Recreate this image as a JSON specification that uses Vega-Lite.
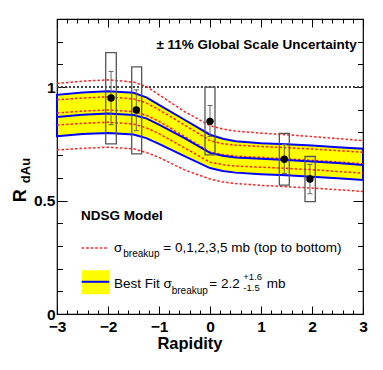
{
  "$schema": "https://vega.github.io/schema/vega-lite/v6.json",
  "width": 306,
  "height": 295,
  "autosize": "none",
  "padding": {"left": 57, "top": 19, "right": 20, "bottom": 56},
  "background": "white",
  "config": {
    "font": "Liberation Sans",
    "view": {"stroke": "black", "strokeWidth": 1.2},
    "axis": {"grid": false, "domain": false, "tickColor": "black", "tickWidth": 1, "labelFlush": false, "labelOverlap": false, "labelColor": "black"}
  },
  "datasets": {
    "band": [
      {"x": -3, "lo": 0.783, "hi": 0.966},
      {"x": -2.5, "lo": 0.793, "hi": 0.976},
      {"x": -2, "lo": 0.798, "hi": 0.982},
      {"x": -1.5, "lo": 0.791, "hi": 0.975},
      {"x": -1.25, "lo": 0.775, "hi": 0.955},
      {"x": -1.0, "lo": 0.75, "hi": 0.922},
      {"x": -0.5, "lo": 0.696, "hi": 0.856},
      {"x": 0, "lo": 0.643, "hi": 0.79},
      {"x": 0.25, "lo": 0.63, "hi": 0.772},
      {"x": 0.5, "lo": 0.623, "hi": 0.761},
      {"x": 1, "lo": 0.616, "hi": 0.753},
      {"x": 1.5, "lo": 0.611, "hi": 0.748},
      {"x": 2, "lo": 0.605, "hi": 0.742},
      {"x": 2.5, "lo": 0.598, "hi": 0.735},
      {"x": 3, "lo": 0.591, "hi": 0.728}
    ],
    "best": [
      {"x": -3, "y": 0.868}, {"x": -2.5, "y": 0.878}, {"x": -2, "y": 0.884}, {"x": -1.5, "y": 0.877},
      {"x": -1.25, "y": 0.862}, {"x": -1.0, "y": 0.835}, {"x": -0.5, "y": 0.775}, {"x": 0, "y": 0.71},
      {"x": 0.25, "y": 0.697}, {"x": 0.5, "y": 0.69}, {"x": 1, "y": 0.684}, {"x": 1.5, "y": 0.679},
      {"x": 2, "y": 0.672}, {"x": 2.5, "y": 0.665}, {"x": 3, "y": 0.657}
    ],
    "red": [
      {"s": 0, "x": -3, "y": 1.016}, {"s": 0, "x": -2.5, "y": 1.026}, {"s": 0, "x": -2, "y": 1.032}, {"s": 0, "x": -1.5, "y": 1.022}, {"s": 0, "x": -1.25, "y": 1.003}, {"s": 0, "x": -1.0, "y": 0.966}, {"s": 0, "x": -0.5, "y": 0.892}, {"s": 0, "x": 0, "y": 0.83}, {"s": 0, "x": 0.25, "y": 0.815}, {"s": 0, "x": 0.5, "y": 0.806}, {"s": 0, "x": 1, "y": 0.797}, {"s": 0, "x": 1.5, "y": 0.79}, {"s": 0, "x": 2, "y": 0.782}, {"s": 0, "x": 2.5, "y": 0.773}, {"s": 0, "x": 3, "y": 0.764},
      {"s": 1, "x": -3, "y": 0.944}, {"s": 1, "x": -2.5, "y": 0.952}, {"s": 1, "x": -2, "y": 0.957}, {"s": 1, "x": -1.5, "y": 0.948}, {"s": 1, "x": -1.25, "y": 0.93}, {"s": 1, "x": -1.0, "y": 0.9}, {"s": 1, "x": -0.5, "y": 0.833}, {"s": 1, "x": 0, "y": 0.764}, {"s": 1, "x": 0.25, "y": 0.75}, {"s": 1, "x": 0.5, "y": 0.744}, {"s": 1, "x": 1, "y": 0.738}, {"s": 1, "x": 1.5, "y": 0.733}, {"s": 1, "x": 2, "y": 0.727}, {"s": 1, "x": 2.5, "y": 0.72}, {"s": 1, "x": 3, "y": 0.713},
      {"s": 2, "x": -3, "y": 0.886}, {"s": 2, "x": -2.5, "y": 0.894}, {"s": 2, "x": -2, "y": 0.899}, {"s": 2, "x": -1.5, "y": 0.892}, {"s": 2, "x": -1.25, "y": 0.876}, {"s": 2, "x": -1.0, "y": 0.849}, {"s": 2, "x": -0.5, "y": 0.782}, {"s": 2, "x": 0, "y": 0.714}, {"s": 2, "x": 0.25, "y": 0.702}, {"s": 2, "x": 0.5, "y": 0.696}, {"s": 2, "x": 1, "y": 0.69}, {"s": 2, "x": 1.5, "y": 0.684}, {"s": 2, "x": 2, "y": 0.677}, {"s": 2, "x": 2.5, "y": 0.67}, {"s": 2, "x": 3, "y": 0.662},
      {"s": 3, "x": -3, "y": 0.833}, {"s": 3, "x": -2.5, "y": 0.84}, {"s": 3, "x": -2, "y": 0.845}, {"s": 3, "x": -1.5, "y": 0.837}, {"s": 3, "x": -1.25, "y": 0.82}, {"s": 3, "x": -1.0, "y": 0.795}, {"s": 3, "x": -0.5, "y": 0.732}, {"s": 3, "x": 0, "y": 0.669}, {"s": 3, "x": 0.25, "y": 0.658}, {"s": 3, "x": 0.5, "y": 0.652}, {"s": 3, "x": 1, "y": 0.647}, {"s": 3, "x": 1.5, "y": 0.642}, {"s": 3, "x": 2, "y": 0.636}, {"s": 3, "x": 2.5, "y": 0.628}, {"s": 3, "x": 3, "y": 0.621},
      {"s": 5, "x": -3, "y": 0.723}, {"s": 5, "x": -2.5, "y": 0.73}, {"s": 5, "x": -2, "y": 0.735}, {"s": 5, "x": -1.5, "y": 0.728}, {"s": 5, "x": -1.25, "y": 0.712}, {"s": 5, "x": -1.0, "y": 0.69}, {"s": 5, "x": -0.5, "y": 0.635}, {"s": 5, "x": 0, "y": 0.595}, {"s": 5, "x": 0.25, "y": 0.582}, {"s": 5, "x": 0.5, "y": 0.575}, {"s": 5, "x": 1, "y": 0.567}, {"s": 5, "x": 1.5, "y": 0.561}, {"s": 5, "x": 2, "y": 0.555}, {"s": 5, "x": 2.5, "y": 0.548}, {"s": 5, "x": 3, "y": 0.54}
    ],
    "points": [
      {"x": -1.94, "y": 0.952, "elo": 0.834, "ehi": 1.069, "slo": 0.75, "shi": 1.152, "xlo": -2.045, "xhi": -1.837},
      {"x": -1.445, "y": 0.899, "elo": 0.808, "ehi": 0.988, "slo": 0.706, "shi": 1.089, "xlo": -1.535, "xhi": -1.34},
      {"x": 0.0, "y": 0.849, "elo": 0.782, "ehi": 0.919, "slo": 0.701, "shi": 1.0, "xlo": -0.098, "xhi": 0.098},
      {"x": 1.457, "y": 0.682, "elo": 0.619, "ehi": 0.747, "slo": 0.568, "shi": 0.796, "xlo": 1.36, "xhi": 1.555},
      {"x": 1.96, "y": 0.595, "elo": 0.53, "ehi": 0.659, "slo": 0.495, "shi": 0.694, "xlo": 1.863, "xhi": 2.065}
    ],
    "legline": [{"x": -2.516, "y": 0.291}, {"x": -1.994, "y": 0.291}],
    "legbox": [{"x": -2.516, "x2": -1.975, "y": 0.0865, "y2": 0.193, "ym": 0.142}],
    "textMain": [
      {"text": "σ", "x": -1.882, "y": 0.2736},
      {"text": "= 0,1,2,3,5 mb (top to bottom)", "x": -0.916, "y": 0.2736},
      {"text": "Best Fit σ", "x": -1.882, "y": 0.1129},
      {"text": "= 2.2", "x": -0.014, "y": 0.1129},
      {"text": "mb", "x": 1.112, "y": 0.1129}
    ],
    "textSub": [
      {"text": "breakup", "x": -1.7, "y": 0.2516},
      {"text": "breakup", "x": -0.751, "y": 0.0892}
    ],
    "textSup": [
      {"text": "+1.6", "x": 0.653, "y": 0.1493},
      {"text": "-1.5", "x": 0.653, "y": 0.101}
    ],
    "textBold": [
      {"text": "NDSG Model", "x": -2.529, "y": 0.4128}
    ],
    "textGlobal": [
      {"text": "± 11% Global Scale Uncertainty", "x": 2.876, "y": 1.1695}
    ],
    "ytitleR": [{"text": "R", "x": -3.608, "y": 0.493}],
    "ytitleSub": [{"text": "dAu", "x": -3.529, "y": 0.5766}]
  },
  "resolve": {"axis": {"x": "independent", "y": "independent"}},
  "layer": [
    {
      "data": {"name": "band"},
      "mark": {"type": "area", "fill": "#ffff00", "stroke": "#0000ff", "strokeWidth": 2, "fillOpacity": 1},
      "encoding": {
        "x": {"field": "x", "type": "quantitative", "scale": {"domain": [-3, 3], "nice": false, "zero": false},
          "axis": {"orient": "bottom", "values": [-3, -2, -1, 0, 1, 2, 3], "format": "~g", "tickSize": -8, "labelPadding": 13, "labelFontSize": 15.5, "labelFontWeight": "bold",
            "title": "Rapidity", "titleFontSize": 16.5, "titleFontWeight": "bold", "titleX": 132.5, "titleY": 34.3, "titleAlign": "center", "titleBaseline": "alphabetic", "titleColor": "black"}},
        "y": {"field": "lo", "type": "quantitative", "scale": {"domain": [0, 1.3], "nice": false, "zero": false},
          "axis": {"orient": "left", "values": [0, 0.5, 1], "format": "~g", "tickSize": -10, "labelPadding": 12, "labelFontSize": 15.5, "labelFontWeight": "bold", "labelBaseline": "middle", "title": null}},
        "y2": {"field": "hi"}
      }
    },
    {
      "data": {"name": "best"},
      "mark": {"type": "rule", "stroke": "#444444", "strokeWidth": 0.8, "strokeDash": [2, 2]},
      "encoding": {"y": {"datum": 1, "type": "quantitative", "axis": null}}
    },
    {
      "data": {"name": "red"},
      "mark": {"type": "line", "stroke": "#ff2020", "strokeWidth": 1.5, "strokeDash": [2.5, 2]},
      "encoding": {
        "x": {"field": "x", "type": "quantitative", "scale": {"domain": [-3, 3], "nice": false, "zero": false},
          "axis": {"orient": "bottom", "values": [-3, -2.8, -2.6, -2.4, -2.2, -2, -1.8, -1.6, -1.4, -1.2, -1, -0.8, -0.6, -0.4, -0.2, 0, 0.2, 0.4, 0.6, 0.8, 1, 1.2, 1.4, 1.6, 1.8, 2, 2.2, 2.4, 2.6, 2.8, 3], "tickSize": -4, "labels": false, "title": null}},
        "y": {"field": "y", "type": "quantitative", "scale": {"domain": [0, 1.3], "nice": false, "zero": false},
          "axis": {"orient": "left", "values": [0, 0.1, 0.2, 0.3, 0.4, 0.5, 0.6, 0.7, 0.8, 0.9, 1, 1.1, 1.2, 1.3], "tickSize": -5.5, "labels": false, "title": null}},
        "detail": {"field": "s", "type": "nominal"}
      }
    },
    {
      "data": {"name": "best"},
      "mark": {"type": "line", "stroke": "#0000ff", "strokeWidth": 2},
      "encoding": {
        "x": {"field": "x", "type": "quantitative", "scale": {"domain": [-3, 3], "nice": false, "zero": false},
          "axis": {"orient": "top", "values": [-3, -2, -1, 0, 1, 2, 3], "tickSize": -8, "labels": false, "title": null}},
        "y": {"field": "y", "type": "quantitative", "scale": {"domain": [0, 1.3], "nice": false, "zero": false},
          "axis": {"orient": "right", "values": [0, 0.5, 1], "tickSize": -10, "labels": false, "title": null}}
      }
    },
    {
      "data": {"name": "points"},
      "mark": {"type": "rect", "fill": null, "fillOpacity": 0, "stroke": "#555555", "strokeWidth": 1.3},
      "encoding": {
        "x": {"field": "xlo", "type": "quantitative", "scale": {"domain": [-3, 3], "nice": false, "zero": false},
          "axis": {"orient": "top", "values": [-3, -2.8, -2.6, -2.4, -2.2, -2, -1.8, -1.6, -1.4, -1.2, -1, -0.8, -0.6, -0.4, -0.2, 0, 0.2, 0.4, 0.6, 0.8, 1, 1.2, 1.4, 1.6, 1.8, 2, 2.2, 2.4, 2.6, 2.8, 3], "tickSize": -4, "labels": false, "title": null}},
        "x2": {"field": "xhi"},
        "y": {"field": "slo", "type": "quantitative", "scale": {"domain": [0, 1.3], "nice": false, "zero": false},
          "axis": {"orient": "right", "values": [0, 0.1, 0.2, 0.3, 0.4, 0.5, 0.6, 0.7, 0.8, 0.9, 1, 1.1, 1.2, 1.3], "tickSize": -5.5, "labels": false, "title": null}},
        "y2": {"field": "shi"}
      }
    },
    {
      "data": {"name": "points"},
      "mark": {"type": "rule", "stroke": "#666666", "strokeWidth": 1},
      "encoding": {
        "x": {"field": "x", "type": "quantitative", "axis": null},
        "y": {"field": "elo", "type": "quantitative", "axis": null},
        "y2": {"field": "ehi"}
      }
    },
    {
      "data": {"name": "points"},
      "mark": {"type": "tick", "orient": "horizontal", "color": "#666666", "size": 5, "thickness": 1, "opacity": 1},
      "encoding": {
        "x": {"field": "x", "type": "quantitative", "axis": null},
        "y": {"field": "elo", "type": "quantitative", "axis": null}
      }
    },
    {
      "data": {"name": "points"},
      "mark": {"type": "tick", "orient": "horizontal", "color": "#666666", "size": 5, "thickness": 1, "opacity": 1},
      "encoding": {
        "x": {"field": "x", "type": "quantitative", "axis": null},
        "y": {"field": "ehi", "type": "quantitative", "axis": null}
      }
    },
    {
      "data": {"name": "points"},
      "mark": {"type": "circle", "color": "black", "size": 55, "opacity": 1},
      "encoding": {
        "x": {"field": "x", "type": "quantitative", "axis": null},
        "y": {"field": "y", "type": "quantitative", "axis": null}
      }
    },
    {
      "data": {"name": "legline"},
      "mark": {"type": "line", "stroke": "#ff2020", "strokeWidth": 1.5, "strokeDash": [2.5, 2]},
      "encoding": {
        "x": {"field": "x", "type": "quantitative", "axis": null},
        "y": {"field": "y", "type": "quantitative", "axis": null}
      }
    },
    {
      "data": {"name": "legbox"},
      "mark": {"type": "rect", "fill": "#ffff00"},
      "encoding": {
        "x": {"field": "x", "type": "quantitative", "axis": null},
        "x2": {"field": "x2"},
        "y": {"field": "y", "type": "quantitative", "axis": null},
        "y2": {"field": "y2"}
      }
    },
    {
      "data": {"name": "legbox"},
      "mark": {"type": "rule", "stroke": "#0000ff", "strokeWidth": 2},
      "encoding": {
        "x": {"field": "x", "type": "quantitative", "axis": null},
        "x2": {"field": "x2"},
        "y": {"field": "ym", "type": "quantitative", "axis": null}
      }
    },
    {
      "data": {"name": "textMain"},
      "mark": {"type": "text", "align": "left", "baseline": "alphabetic", "fontSize": 13.5, "color": "black"},
      "encoding": {
        "x": {"field": "x", "type": "quantitative", "axis": null},
        "y": {"field": "y", "type": "quantitative", "axis": null},
        "text": {"field": "text"}
      }
    },
    {
      "data": {"name": "textSub"},
      "mark": {"type": "text", "align": "left", "baseline": "alphabetic", "fontSize": 10, "color": "black"},
      "encoding": {
        "x": {"field": "x", "type": "quantitative", "axis": null},
        "y": {"field": "y", "type": "quantitative", "axis": null},
        "text": {"field": "text"}
      }
    },
    {
      "data": {"name": "textSup"},
      "mark": {"type": "text", "align": "left", "baseline": "alphabetic", "fontSize": 9.5, "color": "black"},
      "encoding": {
        "x": {"field": "x", "type": "quantitative", "axis": null},
        "y": {"field": "y", "type": "quantitative", "axis": null},
        "text": {"field": "text"}
      }
    },
    {
      "data": {"name": "textBold"},
      "mark": {"type": "text", "align": "left", "baseline": "alphabetic", "fontSize": 13.5, "fontWeight": "bold", "color": "black"},
      "encoding": {
        "x": {"field": "x", "type": "quantitative", "axis": null},
        "y": {"field": "y", "type": "quantitative", "axis": null},
        "text": {"field": "text"}
      }
    },
    {
      "data": {"name": "textGlobal"},
      "mark": {"type": "text", "align": "right", "baseline": "alphabetic", "fontSize": 13.5, "fontWeight": "bold", "color": "black"},
      "encoding": {
        "x": {"field": "x", "type": "quantitative", "axis": null},
        "y": {"field": "y", "type": "quantitative", "axis": null},
        "text": {"field": "text"}
      }
    },
    {
      "data": {"name": "ytitleR"},
      "mark": {"type": "text", "align": "left", "baseline": "alphabetic", "fontSize": 18, "fontWeight": "bold", "angle": 270, "color": "black"},
      "encoding": {
        "x": {"field": "x", "type": "quantitative", "axis": null},
        "y": {"field": "y", "type": "quantitative", "axis": null},
        "text": {"field": "text"}
      }
    },
    {
      "data": {"name": "ytitleSub"},
      "mark": {"type": "text", "align": "left", "baseline": "alphabetic", "fontSize": 13, "fontWeight": "bold", "angle": 270, "color": "black"},
      "encoding": {
        "x": {"field": "x", "type": "quantitative", "axis": null},
        "y": {"field": "y", "type": "quantitative", "axis": null},
        "text": {"field": "text"}
      }
    }
  ]
}
